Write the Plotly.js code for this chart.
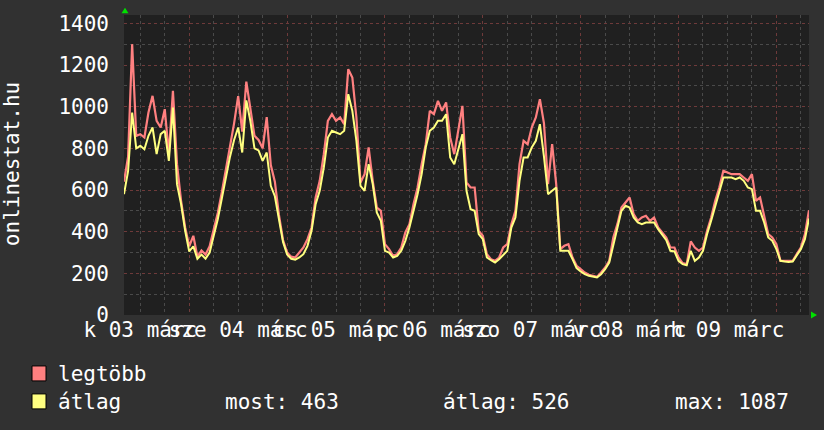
<!DOCTYPE html>
<html><head><meta charset="utf-8">
<script src="https://cdn.plot.ly/plotly-3.0.1.min.js"></script>
<style>html,body{margin:0;padding:0;background:#313131;}#chart{width:824px;height:430px;}</style>
</head><body><div id="chart"></div>
<script>
// hourly samples starting 2009-03-03 08:00
const startTime = '2009-03-03T08:00:00Z';
const stepHours = 1;
const legtobb = [640,760,1300,860,868,852,972,1052,932,900,988,772,1076,724,548,420,
 330,380,280,310,290,330,410,490,590,700,800,920,1050,880,1120,1000,860,840,800,950,720,640,480,360,
 300,280,276,300,324,364,420,564,644,772,932,964,932,948,916,1180,1140,948,636,676,804,644,516,500,
 340,316,284,292,324,396,436,532,612,724,820,980,964,1028,980,1020,852,772,880,1004,636,612,612,404,
 380,292,268,260,276,324,340,436,500,724,836,820,900,948,1036,920,628,820,628,316,332,340,276,236,
 220,204,193,188,183,204,228,260,372,436,516,540,564,484,452,468,476,452,468,420,396,372,324,324,
 276,249,244,353,324,308,324,404,468,548,612,692,684,676,676,676,660,644,676,548,564,468,388,372,
 340,260,260,260,260,292,324,388,503];
const atlag = [580,690,972,800,812,796,860,900,772,868,884,740,996,628,532,404,
 305,330,270,290,270,300,380,460,560,660,760,840,900,780,1030,930,800,790,740,780,620,570,460,350,
 290,270,266,276,292,332,404,532,596,708,852,884,876,868,884,1060,980,836,620,596,724,628,492,452,
 308,300,276,284,308,356,420,500,580,676,804,884,900,932,932,964,756,724,800,868,596,508,500,388,
 364,276,263,252,268,289,308,420,468,644,756,756,804,836,916,760,580,596,612,308,308,308,268,225,
 209,196,188,183,180,196,220,252,340,412,500,524,516,468,444,436,444,444,444,412,385,359,308,305,
 260,244,239,308,260,276,308,388,452,524,596,660,660,660,652,660,644,612,604,500,500,444,372,356,
 316,260,257,255,257,284,316,364,463];
const dayLines = ['2009-03-04','2009-03-05','2009-03-06','2009-03-07','2009-03-08','2009-03-09','2009-03-10'];
const labelTicks = ['2009-03-03 12:00','2009-03-04 12:00','2009-03-05 12:00','2009-03-06 12:00','2009-03-07 12:00','2009-03-08 12:00','2009-03-09 12:00'];
const labelTexts = ['k 03 márc','sze 04 márc','cs 05 márc','p 06 márc','szo 07 márc','v 08 márc','h 09 márc'];
const yTicks = [0,200,400,600,800,1000,1200,1400];
const seriesNames = ['legtöbb','átlag'];
const seriesColors = ['#ff8080','#ffff80'];
const statNames = ['most','átlag','max'];
const statValues = [463,526,1087];
const xRange = ['2009-03-03 08:00','2009-03-10 08:00'];
const yRange = [0,1440];

function fmt(ms){return new Date(ms).toISOString().slice(0,19).replace('T',' ');}
const t0 = Date.parse(startTime);
const times = legtobb.map((_,i)=>fmt(t0 + i*stepHours*3600000));

const FONT = 'DejaVu Sans Mono';
const traces = [
 {x:times, y:legtobb, type:'scatter', mode:'lines', line:{color:seriesColors[0], width:2.2, shape:'linear'}, xaxis:'x', yaxis:'y', hoverinfo:'skip'},
 {x:times, y:atlag, type:'scatter', mode:'lines', line:{color:seriesColors[1], width:2, shape:'linear'}, xaxis:'x2', yaxis:'y', hoverinfo:'skip'}
];

const W = 685, H = 300.3, L = 124, B = 315;
const px = v => (v - L)/W;
const py = v => (B - v)/H;

const shapes = [
 {type:'rect', xref:'paper', yref:'paper', x0:px(32), x1:px(46), y0:py(381), y1:py(366), fillcolor:seriesColors[0], line:{color:'#000', width:1}},
 {type:'rect', xref:'paper', yref:'paper', x0:px(32), x1:px(46), y0:py(409), y1:py(394), fillcolor:seriesColors[1], line:{color:'#000', width:1}},
 {type:'path', xref:'paper', yref:'paper', path:`M ${px(121.5)},${py(13)} L ${px(128.5)},${py(13)} L ${px(125)},${py(7.5)} Z`, fillcolor:'#00e000', line:{width:0}},
 {type:'path', xref:'paper', yref:'paper', path:`M ${px(811)},${py(311.5)} L ${px(811)},${py(318.5)} L ${px(817)},${py(315)} Z`, fillcolor:'#00e000', line:{width:0}}
];

const tf = {family:FONT, size:21, color:'#ffffff'};
const annotations = [
 {xref:'paper', yref:'paper', x:px(12), y:py(164), text:'onlinestat.hu', textangle:-90, showarrow:false, font:tf, xanchor:'center', yanchor:'middle'},
 {xref:'paper', yref:'paper', x:px(56), y:py(374), text:seriesNames[0], showarrow:false, font:tf, xanchor:'left', yanchor:'middle'},
 {xref:'paper', yref:'paper', x:px(56), y:py(402), text:seriesNames[1], showarrow:false, font:tf, xanchor:'left', yanchor:'middle'},
 {xref:'paper', yref:'paper', x:px(223), y:py(402), text:statNames[0]+': '+statValues[0], showarrow:false, font:tf, xanchor:'left', yanchor:'middle'},
 {xref:'paper', yref:'paper', x:px(441), y:py(402), text:statNames[1]+': '+statValues[1], showarrow:false, font:tf, xanchor:'left', yanchor:'middle'},
 {xref:'paper', yref:'paper', x:px(673), y:py(402), text:statNames[2]+': '+statValues[2], showarrow:false, font:tf, xanchor:'left', yanchor:'middle'}
];

const majorGrid = '#6e3a3a';
const minorGrid = '#4a4a4a';
const layout = {
 width:824, height:430,
 margin:{l:124, r:15, t:15, b:115},
 paper_bgcolor:'#313131', plot_bgcolor:'#202020',
 showlegend:false,
 xaxis:{type:'date', range:xRange, tickmode:'array', tickvals:dayLines, showticklabels:false,
   showgrid:true, gridcolor:majorGrid, griddash:'dot', gridwidth:1, zeroline:false, showline:false, ticks:'',
   minor:{dtick:6*3600000, tick0:'2009-03-04', showgrid:true, gridcolor:minorGrid, griddash:'dot', gridwidth:1}},
 xaxis2:{type:'date', overlaying:'x', matches:'x', range:xRange, side:'bottom', tickmode:'array', tickvals:labelTicks, ticktext:labelTexts,
   tickangle:0, showgrid:false, zeroline:false, showline:false, ticks:'', tickfont:tf},
 yaxis:{range:yRange, tickmode:'array', tickvals:yTicks, showgrid:true, gridcolor:majorGrid, griddash:'dot', gridwidth:1,
   zeroline:false, showline:false, ticks:'', tickfont:tf, ticklabelstandoff:14,
   minor:{dtick:100, tick0:0, showgrid:true, gridcolor:minorGrid, griddash:'dot', gridwidth:1}},
 shapes:shapes, annotations:annotations
};
Plotly.newPlot('chart', traces, layout, {displayModeBar:false, staticPlot:true});
</script></body></html>
